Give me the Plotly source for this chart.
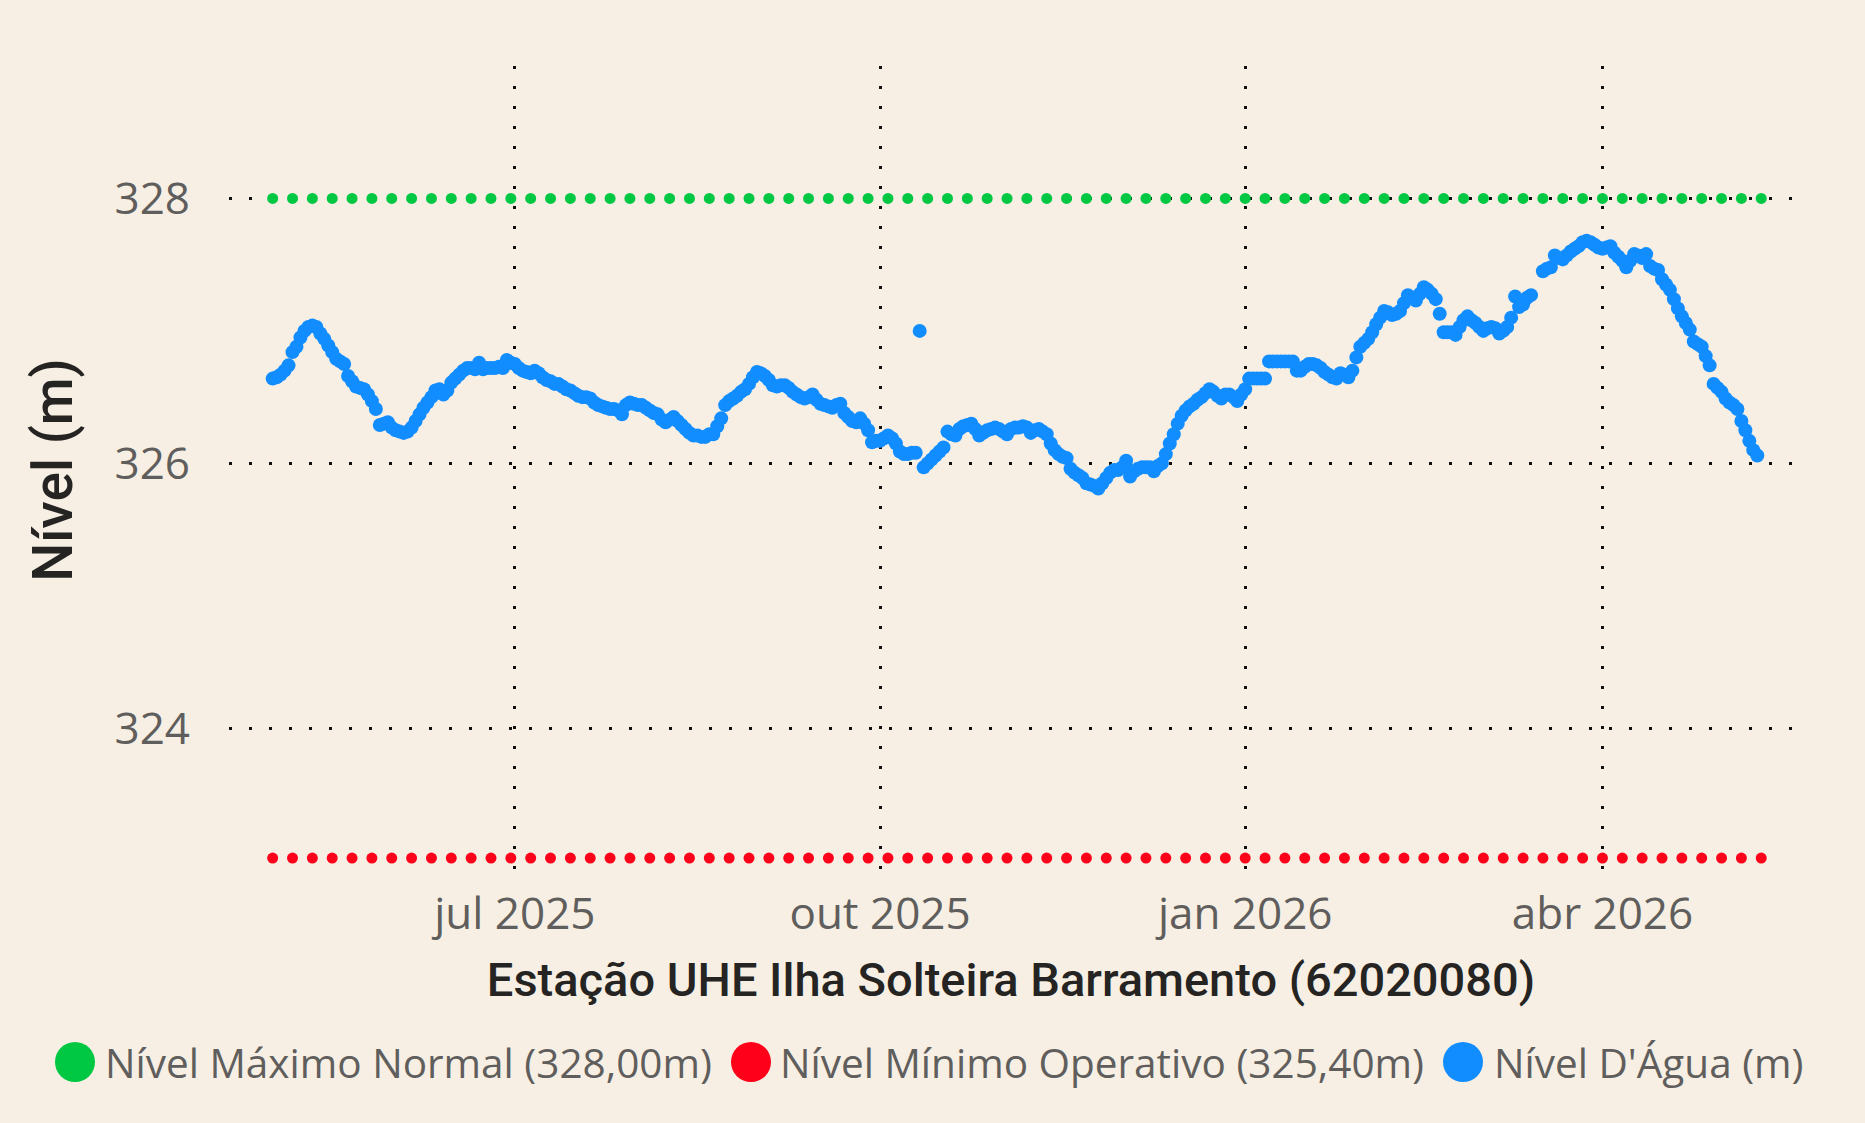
import pandas as pd
import plotly.graph_objects as go

# ---------------- data ----------------
START_DATE = "2025-05-01"
REF_LINE_END = "2026-05-11"

# Nível D'Água (m), daily from 2025-05-01 (None = missing day)
nivel_agua = [
    326.64, 326.65, 326.67, 326.70, 326.74, 326.84, 326.88, 326.95, 327.00, 327.03,
    327.04, 327.03, 326.98, 326.94, 326.89, 326.84, 326.79, 326.77, 326.75, 326.66,
    326.62, 326.58, 326.57, 326.56, 326.52, 326.47, 326.41, 326.29, 326.30, 326.31,
    326.27, 326.25, 326.24, 326.23, 326.24, 326.27, 326.32, 326.37, 326.42, 326.46,
    326.50, 326.55, 326.56, 326.52, 326.55, 326.61, 326.64, 326.67, 326.70, 326.72,
    326.72, 326.71, 326.76, 326.71, 326.72, 326.72, 326.72, 326.73, 326.72, 326.78,
    326.76, 326.75, 326.72, 326.70, 326.69, 326.68, 326.70, 326.68, 326.65, 326.63,
    326.62, 326.60, 326.60, 326.58, 326.56, 326.55, 326.53, 326.51, 326.50, 326.50,
    326.49, 326.46, 326.44, 326.43, 326.42, 326.41, 326.41, 326.40, 326.37, 326.44,
    326.46, 326.45, 326.44, 326.44, 326.42, 326.40, 326.38, 326.37, 326.33, 326.31,
    326.33, 326.35, 326.32, 326.29, 326.26, 326.23, 326.21, 326.21, 326.20, 326.20,
    326.22, 326.22, 326.28, 326.34, 326.44, 326.47, 326.49, 326.51, 326.54, 326.56,
    326.60, 326.65, 326.69, 326.68, 326.66, 326.63, 326.59, 326.58, 326.59, 326.59,
    326.57, 326.54, 326.52, 326.50, 326.49, 326.50, 326.52, 326.48, 326.45, 326.44,
    326.43, 326.42, 326.44, 326.45, 326.38, 326.35, 326.32, 326.31, 326.34, 326.30,
    326.25, 326.16, 326.17, 326.17, 326.19, 326.21, 326.19, 326.15, 326.09, 326.07,
    326.07, 326.08, 326.08, 327.00, 325.97, 326.00, 326.03, 326.06, 326.09, 326.12,
    326.24, 326.22, 326.21, 326.26, 326.28, 326.29, 326.30, 326.26, 326.21, 326.23,
    326.25, 326.26, 326.27, 326.26, 326.24, 326.22, 326.26, 326.27, 326.27, 326.28,
    326.27, 326.23, 326.25, 326.26, 326.24, 326.22, 326.15, 326.10, 326.07, 326.05,
    326.04, 325.96, 325.93, 325.91, 325.89, 325.85, 325.84, 325.83, 325.81, 325.85,
    325.89, 325.93, 325.95, 325.95, 325.97, 326.02, 325.90, 325.94, 325.96, 325.97,
    325.97, 325.97, 325.94, 325.98, 326.00, 326.07, 326.15, 326.22, 326.30, 326.36,
    326.40, 326.43, 326.45, 326.48, 326.50, 326.53, 326.56, 326.54, 326.51, 326.49,
    326.52, 326.52, 326.50, 326.47, 326.52, 326.56, 326.64, 326.64, 326.64, 326.64,
    326.64, 326.77, 326.77, 326.77, 326.77, 326.77, 326.77, 326.77, 326.70, 326.70,
    326.73, 326.75, 326.75, 326.74, 326.72, 326.69, 326.67, 326.65, 326.64, 326.68,
    326.67, 326.65, 326.70, 326.80, 326.88, 326.91, 326.94, 326.99, 327.05, 327.10,
    327.15, 327.14, 327.12, 327.13, 327.15, 327.21, 327.27, 327.25, 327.23, 327.28,
    327.33, 327.31, 327.28, 327.24, 327.13, 326.99, 326.99, 326.99, 326.97, 327.03,
    327.08, 327.11, 327.08, 327.06, 327.03, 327.00, 327.02, 327.03, 327.02, 326.98,
    327.00, 327.03, 327.10, 327.26, 327.18, 327.20, 327.25, 327.27, None, None,
    327.45, 327.47, 327.48, 327.57, 327.55, 327.54, 327.57, 327.60, 327.62, 327.64,
    327.67, 327.68, 327.67, 327.65, 327.63, 327.62, 327.63, 327.64, 327.59, 327.56,
    327.53, 327.48, 327.53, 327.58, 327.57, 327.55, 327.58, 327.49, 327.47, 327.46,
    327.39, 327.35, 327.31, 327.24, 327.17, 327.11, 327.06, 327.01, 326.92, 326.90,
    326.88, 326.81, 326.74, 326.60, 326.57, 326.54, 326.49, 326.46, 326.44, 326.41,
    326.32, 326.25, 326.17, 326.10, 326.06,
]

nivel_maximo_normal = 328.00      # reference line value (as drawn)
nivel_minimo_plotado = 323.02     # reference line position as drawn in the chart

series_names = [
    "Nível Máximo Normal (328,00m)",
    "Nível Mínimo Operativo (325,40m)",
    "Nível D'Água (m)",
]

x_tickvals = ["2025-07-01", "2025-10-01", "2026-01-01", "2026-04-01"]
x_ticktext = ["jul 2025", "out 2025", "jan 2026", "abr 2026"]
y_tickvals = [324, 326, 328]

x_title = "Estação UHE Ilha Solteira Barramento (62020080)"
y_title = "Nível (m)"

# ---------------- build ----------------
dates = pd.date_range(START_DATE, periods=len(nivel_agua), freq="D")
ref_dates = pd.date_range(START_DATE, REF_LINE_END, freq="5D")

BG = "#F7EFE4"
GREEN = "#00C842"
RED = "#FE0019"
BLUE = "#118DFF"
TICK_GRAY = "#605E5C"
TITLE_COL = "#252423"

fig = go.Figure()
fig.add_trace(go.Scatter(
    x=ref_dates, y=[nivel_maximo_normal] * len(ref_dates), mode="markers",
    name=series_names[0], marker=dict(color=GREEN, size=11), showlegend=False))
fig.add_trace(go.Scatter(
    x=ref_dates, y=[nivel_minimo_plotado] * len(ref_dates), mode="markers",
    name=series_names[1], marker=dict(color=RED, size=11), showlegend=False))
fig.add_trace(go.Scatter(
    x=dates, y=nivel_agua, mode="markers",
    name=series_names[2], marker=dict(color=BLUE, size=14), showlegend=False))

L, R, T, B = 229, 72, 66, 249
W, H = 1865, 1123
pw, ph = W - L - R, H - T - B

fig.update_layout(
    width=W, height=H,
    paper_bgcolor=BG, plot_bgcolor=BG,
    margin=dict(l=L, r=R, t=T, b=B),
    showlegend=False,
    font=dict(family="Open Sans", color=TICK_GRAY),
)

fig.update_xaxes(
    range=["2025-04-20", "2026-05-19"],
    tickvals=x_tickvals, ticktext=x_ticktext,
    tickfont=dict(family="Open Sans", size=44, color=TICK_GRAY),
    showgrid=True, gridcolor="#111111", gridwidth=3, griddash="3px,17px",
    zeroline=False, showline=False, ticks="", ticklabelstandoff=10,
    title=dict(text=x_title, standoff=22,
               font=dict(family="Roboto", size=47, color=TITLE_COL, weight=500)),
)
fig.update_yaxes(
    range=[322.9, 329.0],
    tickvals=y_tickvals,
    tickfont=dict(family="Open Sans", size=44, color=TICK_GRAY),
    showgrid=True, gridcolor="#111111", gridwidth=3, griddash="3px,17px",
    zeroline=False, showline=False, ticks="", ticklabelstandoff=38,
    title=dict(text=y_title, standoff=24,
               font=dict(family="Roboto", size=55, color=TITLE_COL, weight=500)),
)

# custom legend (large circular markers)
legend_items = [
    (series_names[0], GREEN, 75, 103),
    (series_names[1], RED, 751, 778),
    (series_names[2], BLUE, 1463, 1492),
]
legend_y_px = 1062

def px_x(p):
    return (p - L) / pw

def px_y(p):
    return (H - B - p) / ph

for name, col, cx, tx in legend_items:
    fig.add_shape(type="circle", xref="paper", yref="paper",
                  xsizemode="pixel", ysizemode="pixel",
                  xanchor=px_x(cx), yanchor=px_y(legend_y_px),
                  x0=-20, x1=20, y0=-20, y1=20,
                  fillcolor=col, line=dict(width=0))
    fig.add_annotation(text=name, xref="paper", yref="paper",
                       x=px_x(tx), y=px_y(legend_y_px),
                       xanchor="left", yanchor="middle", showarrow=False,
                       font=dict(family="Open Sans", size=40.5, color=TICK_GRAY))

fig.write_html(
    "out.html",
    config={"displayModeBar": False},
    post_script="document.body.style.margin='0';document.body.style.padding='0';"
                "document.body.style.background='" + BG + "';",
)
